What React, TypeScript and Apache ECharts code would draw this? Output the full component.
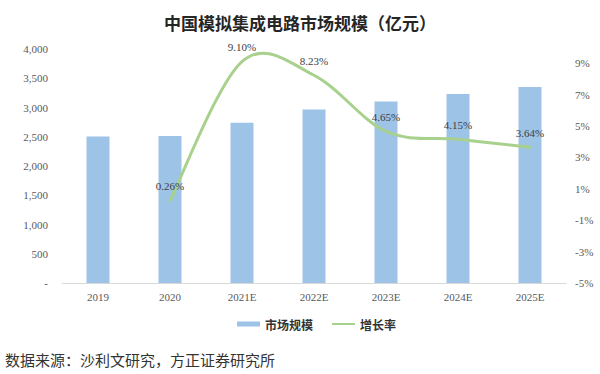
import React, { useEffect, useRef } from "react";
import * as echarts from "echarts";

const categories = ["2019", "2020", "2021E", "2022E", "2023E", "2024E", "2025E"];
const marketSize = [2504, 2511, 2739, 2965, 3103, 3232, 3349];
const growthRate: (number | null)[] = [null, 0.26, 9.1, 8.23, 4.65, 4.15, 3.64];
const leftTicks = { min: 0, max: 4000, interval: 500 };
const rightTicks = { min: -5, max: 9.9, interval: 1 };

const titleText = "中国模拟集成电路市场规模（亿元）";
const sourceText = "数据来源：沙利文研究，方正证券研究所";
const seriesNames = ["市场规模", "增长率"];

const serif = "'Liberation Serif', 'Times New Roman', serif";
const cjk = "'Noto Sans CJK SC', sans-serif";
const green = "#a9d18e";

export default function App() {
  const ref = useRef<HTMLDivElement>(null);
  useEffect(() => {
    if (!ref.current) return;
    const chart = echarts.init(ref.current, undefined, { renderer: "svg" });
    const ratePoints = growthRate
      .map((v, i) => (v === null ? null : [i, v]))
      .filter((p) => p !== null) as number[][];

    chart.setOption({
      animation: false,
      backgroundColor: "#ffffff",
      title: {
        text: titleText,
        left: "center",
        top: 9,
        textStyle: { fontFamily: cjk, fontSize: 17, fontWeight: "bold", color: "#262626" },
      },
      grid: { left: 62, right: 34, top: 49, bottom: 91 },
      legend: {
        top: 313,
        left: 232,
        itemWidth: 23,
        itemHeight: 5,
        itemGap: 18,
        textStyle: { fontFamily: cjk, fontSize: 12, fontWeight: "bold", color: "#333" },
        data: [
          { name: seriesNames[0], icon: "rect" },
          {
            name: seriesNames[1],
            lineStyle: { opacity: 1, width: 2, color: green },
            itemStyle: { opacity: 0 },
          },
        ],
      },
      xAxis: {
        type: "category",
        data: categories,
        axisLine: { lineStyle: { color: "#d9d9d9" } },
        axisTick: { show: false },
        axisLabel: { fontFamily: serif, fontSize: 11, color: "#595959", margin: 8 },
      },
      yAxis: [
        {
          type: "value",
          min: leftTicks.min,
          max: leftTicks.max,
          interval: leftTicks.interval,
          splitLine: { show: false },
          axisLine: { show: false },
          axisTick: { show: false },
          axisLabel: {
            fontFamily: serif,
            fontSize: 11,
            color: "#595959",
            margin: 14,
            formatter: (v: number) => (v === 0 ? "-" : v.toLocaleString("en-US")),
          },
        },
        {
          type: "value",
          min: rightTicks.min,
          max: rightTicks.max,
          interval: rightTicks.interval,
          splitLine: { show: false },
          axisLine: { show: false },
          axisTick: { show: false },
          axisLabel: {
            fontFamily: serif,
            fontSize: 11,
            color: "#595959",
            margin: 9,
            showMaxLabel: false,
            formatter: (v: number) => {
              const r = Math.round(v);
              if (Math.abs(v - r) > 1e-6 || Math.abs(r) % 2 !== 1) return "";
              return r + "%";
            },
          },
        },
      ],
      series: [
        {
          name: seriesNames[0],
          type: "bar",
          data: marketSize,
          barWidth: 23,
          itemStyle: { color: "#9dc3e6" },
          yAxisIndex: 0,
        },
        {
          name: "增长率曲线",
          type: "custom",
          yAxisIndex: 1,
          silent: true,
          data: ratePoints,
          encode: { x: 0, y: 1 },
          renderItem: (params: any, api: any) => {
            if (params.dataIndex !== 0) return null;
            const pts = ratePoints.map((p) => api.coord([p[0], p[1]]));
            const n = pts.length;
            let d = `M${pts[0][0]},${pts[0][1]}`;
            for (let i = 0; i < n - 1; i++) {
              const p0 = pts[Math.max(0, i - 1)];
              const p1 = pts[i];
              const p2 = pts[i + 1];
              const p3 = pts[Math.min(n - 1, i + 2)];
              const c1x = p1[0] + (p2[0] - p0[0]) / 6;
              const c1y = p1[1] + (p2[1] - p0[1]) / 6;
              const c2x = p2[0] - (p3[0] - p1[0]) / 6;
              const c2y = p2[1] - (p3[1] - p1[1]) / 6;
              d += ` C${c1x},${c1y} ${c2x},${c2y} ${p2[0]},${p2[1]}`;
            }
            return {
              type: "path",
              shape: { pathData: d },
              style: { fill: "none", stroke: green, lineWidth: 3, lineCap: "round" },
            };
          },
          z: 3,
        },
        {
          name: seriesNames[1],
          type: "line",
          data: growthRate.map((v) => (v === null ? "-" : v)),
          yAxisIndex: 1,
          symbol: "circle",
          symbolSize: 0.1,
          showSymbol: true,
          lineStyle: { color: green, width: 3, opacity: 0 },
          itemStyle: { color: green },
          z: 4,
          label: {
            show: true,
            position: "top",
            distance: 9,
            fontFamily: serif,
            fontSize: 11,
            color: "#404040",
            formatter: (p: any) => Number(p.value).toFixed(2) + "%",
          },
        },
      ],
      graphic: [
        {
          type: "text",
          left: 5,
          top: 352,
          style: { text: sourceText, fontFamily: cjk, fontSize: 15, fill: "#333" },
        },
      ],
    });
    return () => chart.dispose();
  }, []);
  return <div ref={ref} style={{ width: 600, height: 374, position: "absolute", left: 0, top: 0 }} />;
}
